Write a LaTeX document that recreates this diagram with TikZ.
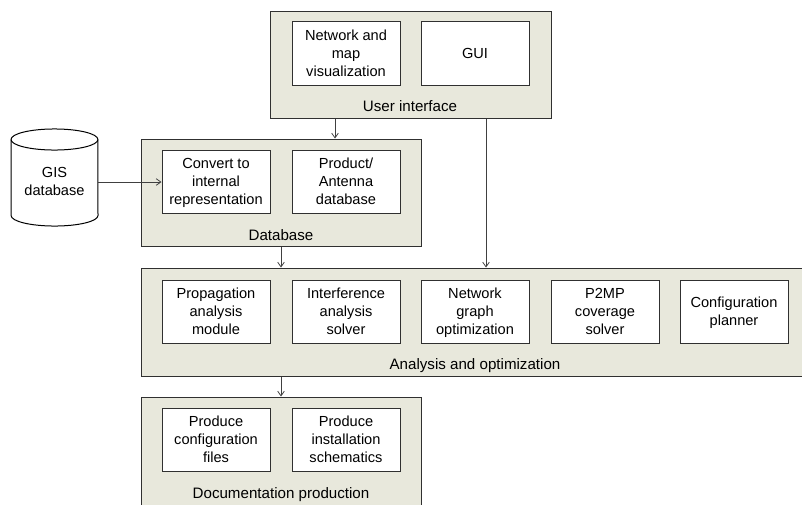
\documentclass[tikz,border=0pt]{standalone}
\usepackage{fontspec}
\setmainfont{Liberation Sans}
\usetikzlibrary{arrows.meta}
\definecolor{panelfill}{HTML}{E8E8DC}
\definecolor{edgeink}{HTML}{303030}
\definecolor{wireink}{HTML}{404040}
\newcommand{\bodyfont}{\fontsize{10.95}{13.5}\selectfont}
\newcommand{\capfont}{\fontsize{11.35}{13.5}\selectfont}
\newcommand{\tl}{\rule{0pt}{8.4pt}}
\newcommand{\bl}{\rule[-1.5pt]{0pt}{1.5pt}}
\tikzset{
  panel/.style={rectangle,draw=edgeink,fill=panelfill,line width=0.75pt,inner sep=0pt},
  module/.style={rectangle,draw=edgeink,fill=white,line width=0.75pt,inner sep=0pt,
    minimum width=81pt,minimum height=47.5pt,align=center,font=\bodyfont},
  caption/.style={inner sep=0pt,font=\capfont},
  wire/.style={draw=wireink,line width=0.75pt,-{Straight Barb[length=3.5pt,width=5pt,line width=0.6pt]}},
  drum/.style={draw=black,fill=white,line width=0.75pt},
}
\begin{document}
\begin{tikzpicture}[x=0.75pt,y=-0.75pt]
\useasboundingbox (0,0) rectangle (802,504);
\clip (0,0) rectangle (802,504);
% panels
\node[panel,minimum width=210.75pt,minimum height=80.25pt] (user) at (410.5,64.5) {};
\node[panel,minimum width=210pt,minimum height=80.25pt] (db) at (281,192.5) {};
\node[panel,minimum width=505.5pt,minimum height=81pt] (an) at (478,322) {};
\node[panel,minimum width=210pt,minimum height=92.25pt] (doc) at (281,458.5) {};
% user interface
\node[module] (netmap) at (346,53.5) {\tl Network and\\map\\visualization\bl};
\node[module] (gui) at (475,53.5) {GUI};
\node[caption] (userlabel) at (410,106.5) {User interface};
% database
\node[module] (conv) at (216,182) {\tl Convert to\\internal\\representation\bl};
\node[module] (prod) at (346,182) {\tl Product/\\Antenna\\database\bl};
\node[caption] (dblabel) at (281,235.5) {Database};
% analysis
\node[module] (prop) at (216,312) {\tl Propagation\\analysis\\module\bl};
\node[module] (interf) at (346,312) {\tl Interference\\analysis\\solver\bl};
\node[module] (graph) at (475,312) {\tl Network\\graph\\optimization\bl};
\node[module] (p2mp) at (605,312) {\tl P2MP\\coverage\\solver\bl};
\node[module] (plan) at (734,312) {\tl Configuration\\planner\bl};
\node[caption] (anlabel) at (475,365.5) {Analysis and optimization};
% documentation
\node[module] (cfg) at (216,440) {\tl Produce\\configuration\\files\bl};
\node[module] (inst) at (346,440) {\tl Produce\\installation\\schematics\bl};
\node[caption] (doclabel) at (281,494.5) {Documentation production};
% GIS cylinder
\draw[drum] (11,139.5) arc[start angle=180,end angle=0,x radius=32.6pt,y radius=7.9pt]
  -- (98,215.5) arc[start angle=0,end angle=-180,x radius=32.6pt,y radius=7.9pt] -- cycle;
\draw[drum,fill=none] (11,139.5) arc[start angle=180,end angle=360,x radius=32.6pt,y radius=7.9pt];
\node[inner sep=0pt,minimum width=65.2pt,align=center,font=\bodyfont] (gis) at (54.5,181.5) {\tl GIS\\database\bl};
% connectors
\coordinate (ux) at (335,118);
\coordinate (gx) at (486,118);
\draw[wire] (ux |- user.south) -- (ux |- db.north);
\draw[wire] (gx |- user.south) -- (gx |- an.north);
\draw[wire] (db.south) -- (db.south |- an.north);
\draw[wire] (doc.north |- an.south) -- (doc.north);
\draw[wire] (gis.east |- conv.west) -- (conv.west);
\end{tikzpicture}
\end{document}
